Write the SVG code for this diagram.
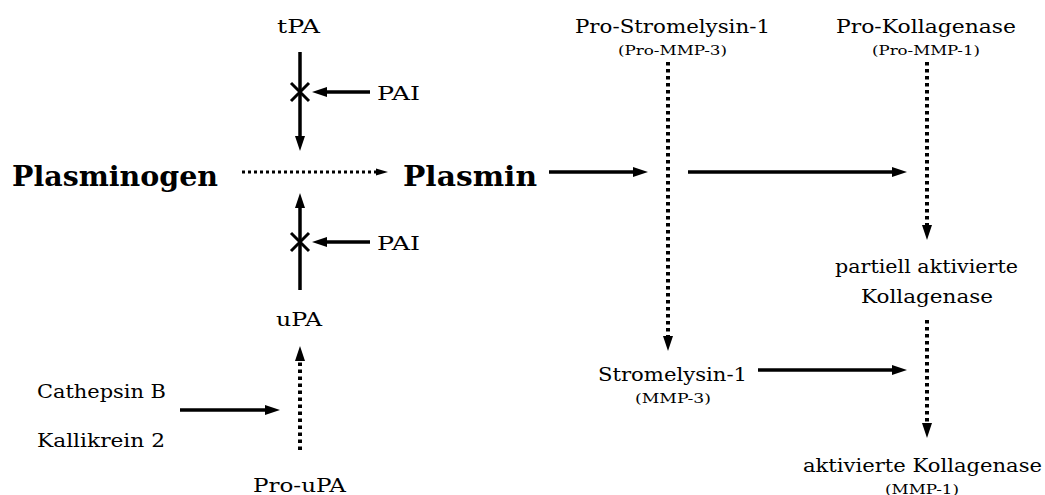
<svg xmlns="http://www.w3.org/2000/svg" width="1045" height="495" viewBox="0 0 1045 495">
  <defs>
    <marker id="head" markerUnits="userSpaceOnUse" viewBox="0 -5 15 10" refX="0" refY="0" markerWidth="15" markerHeight="10" orient="auto">
      <path d="M0,-5 L15,0 L0,5 z" fill="#000"/>
    </marker>
    <marker id="headS" markerUnits="userSpaceOnUse" viewBox="0 -4 12 8" refX="0" refY="0" markerWidth="12" markerHeight="8" orient="auto">
      <path d="M0,-3.5 L12,0 L0,3.5 z" fill="#000"/>
    </marker>
  </defs>
  <style>
    .lbl { font-size: 19px; }
    .big { font-size: 28px; font-weight: bold; }
    .sub { font-size: 13px; }
    .solid { stroke: #000; stroke-width: 3.5; fill: none; marker-end: url(#head); }
    .dot { stroke: #000; stroke-width: 4; stroke-dasharray: 3.5 3.5; fill: none; marker-end: url(#head); }
    .dotH { stroke: #000; stroke-width: 3; stroke-dasharray: 3 3; fill: none; marker-end: url(#headS); }
    .cross { stroke: #000; stroke-width: 3; fill: none; }
  </style>
  <rect width="1045" height="495" fill="#fff"/>

  <g id="connectors">
    <!-- tPA down to the plasminogen conversion, blocked by PAI -->
    <line class="solid" x1="300" y1="52" x2="300" y2="136"/>
    <path class="cross" d="M291,83 L309,101 M309,83 L291,101"/>
    <line class="solid" x1="370" y1="92" x2="327" y2="92"/>
    <!-- uPA up to the plasminogen conversion, blocked by PAI -->
    <line class="solid" x1="300" y1="290" x2="300" y2="208"/>
    <path class="cross" d="M291,233 L309,251 M309,233 L291,251"/>
    <line class="solid" x1="370" y1="242" x2="327" y2="242"/>
    <!-- Pro-uPA to uPA -->
    <line class="dot" x1="300" y1="450" x2="300" y2="361"/>
    <line class="solid" x1="180" y1="410" x2="265" y2="410"/>
    <!-- Plasminogen to Plasmin -->
    <line class="dotH" x1="242" y1="172" x2="376" y2="172"/>
    <!-- Plasmin acting on the pro-enzymes -->
    <line class="solid" x1="549" y1="172" x2="633" y2="172"/>
    <line class="solid" x1="688" y1="172" x2="892" y2="172"/>
    <!-- Pro-Stromelysin-1 to Stromelysin-1 -->
    <line class="dot" x1="668" y1="62" x2="668" y2="336"/>
    <!-- Pro-Kollagenase to partially activated -->
    <line class="dot" x1="927" y1="62" x2="927" y2="225"/>
    <!-- partially activated to activated -->
    <line class="dot" x1="927" y1="320" x2="927" y2="423"/>
    <!-- Stromelysin-1 acting on collagenase -->
    <line class="solid" x1="758" y1="370" x2="892" y2="370"/>
  </g>

  <g font-family="DejaVu Serif, serif" fill="#000">
    <g id="tPA"><text class="lbl" x="277" y="33" textLength="43" lengthAdjust="spacingAndGlyphs">tPA</text></g>
    <g id="PAI-1"><text class="lbl" x="377" y="100" textLength="43" lengthAdjust="spacingAndGlyphs">PAI</text></g>
    <g id="PAI-2"><text class="lbl" x="377" y="250" textLength="43" lengthAdjust="spacingAndGlyphs">PAI</text></g>
    <g id="Plasminogen"><text class="big" x="12" y="186" textLength="206" lengthAdjust="spacingAndGlyphs">Plasminogen</text></g>
    <g id="Plasmin"><text class="big" x="403" y="186" textLength="134" lengthAdjust="spacingAndGlyphs">Plasmin</text></g>
    <g id="uPA"><text class="lbl" x="276" y="326" textLength="46" lengthAdjust="spacingAndGlyphs">uPA</text></g>
    <g id="CathepsinB"><text class="lbl" x="37" y="398" textLength="129" lengthAdjust="spacingAndGlyphs">Cathepsin B</text></g>
    <g id="Kallikrein2"><text class="lbl" x="37" y="447" textLength="128" lengthAdjust="spacingAndGlyphs">Kallikrein 2</text></g>
    <g id="Pro-uPA"><text class="lbl" x="253" y="492" textLength="93" lengthAdjust="spacingAndGlyphs">Pro-uPA</text></g>

    <g id="Pro-Stromelysin-1">
      <text class="lbl" x="575" y="33" textLength="195" lengthAdjust="spacingAndGlyphs">Pro-Stromelysin-1</text>
      <text class="sub" x="618" y="55" textLength="109" lengthAdjust="spacingAndGlyphs">(Pro-MMP-3)</text>
    </g>
    <g id="Pro-Kollagenase">
      <text class="lbl" x="836" y="33" textLength="180" lengthAdjust="spacingAndGlyphs">Pro-Kollagenase</text>
      <text class="sub" x="872" y="55" textLength="108" lengthAdjust="spacingAndGlyphs">(Pro-MMP-1)</text>
    </g>
    <g id="partiell-aktivierte-Kollagenase">
      <text class="lbl" x="835" y="273" textLength="183" lengthAdjust="spacingAndGlyphs">partiell aktivierte</text>
      <text class="lbl" x="861" y="303" textLength="132" lengthAdjust="spacingAndGlyphs">Kollagenase</text>
    </g>
    <g id="Stromelysin-1">
      <text class="lbl" x="598" y="381" textLength="149" lengthAdjust="spacingAndGlyphs">Stromelysin-1</text>
      <text class="sub" x="635" y="403" textLength="76" lengthAdjust="spacingAndGlyphs">(MMP-3)</text>
    </g>
    <g id="aktivierte-Kollagenase">
      <text class="lbl" x="803" y="472" textLength="239" lengthAdjust="spacingAndGlyphs">aktivierte Kollagenase</text>
      <text class="sub" x="885" y="494" textLength="74" lengthAdjust="spacingAndGlyphs">(MMP-1)</text>
    </g>
  </g>
</svg>
